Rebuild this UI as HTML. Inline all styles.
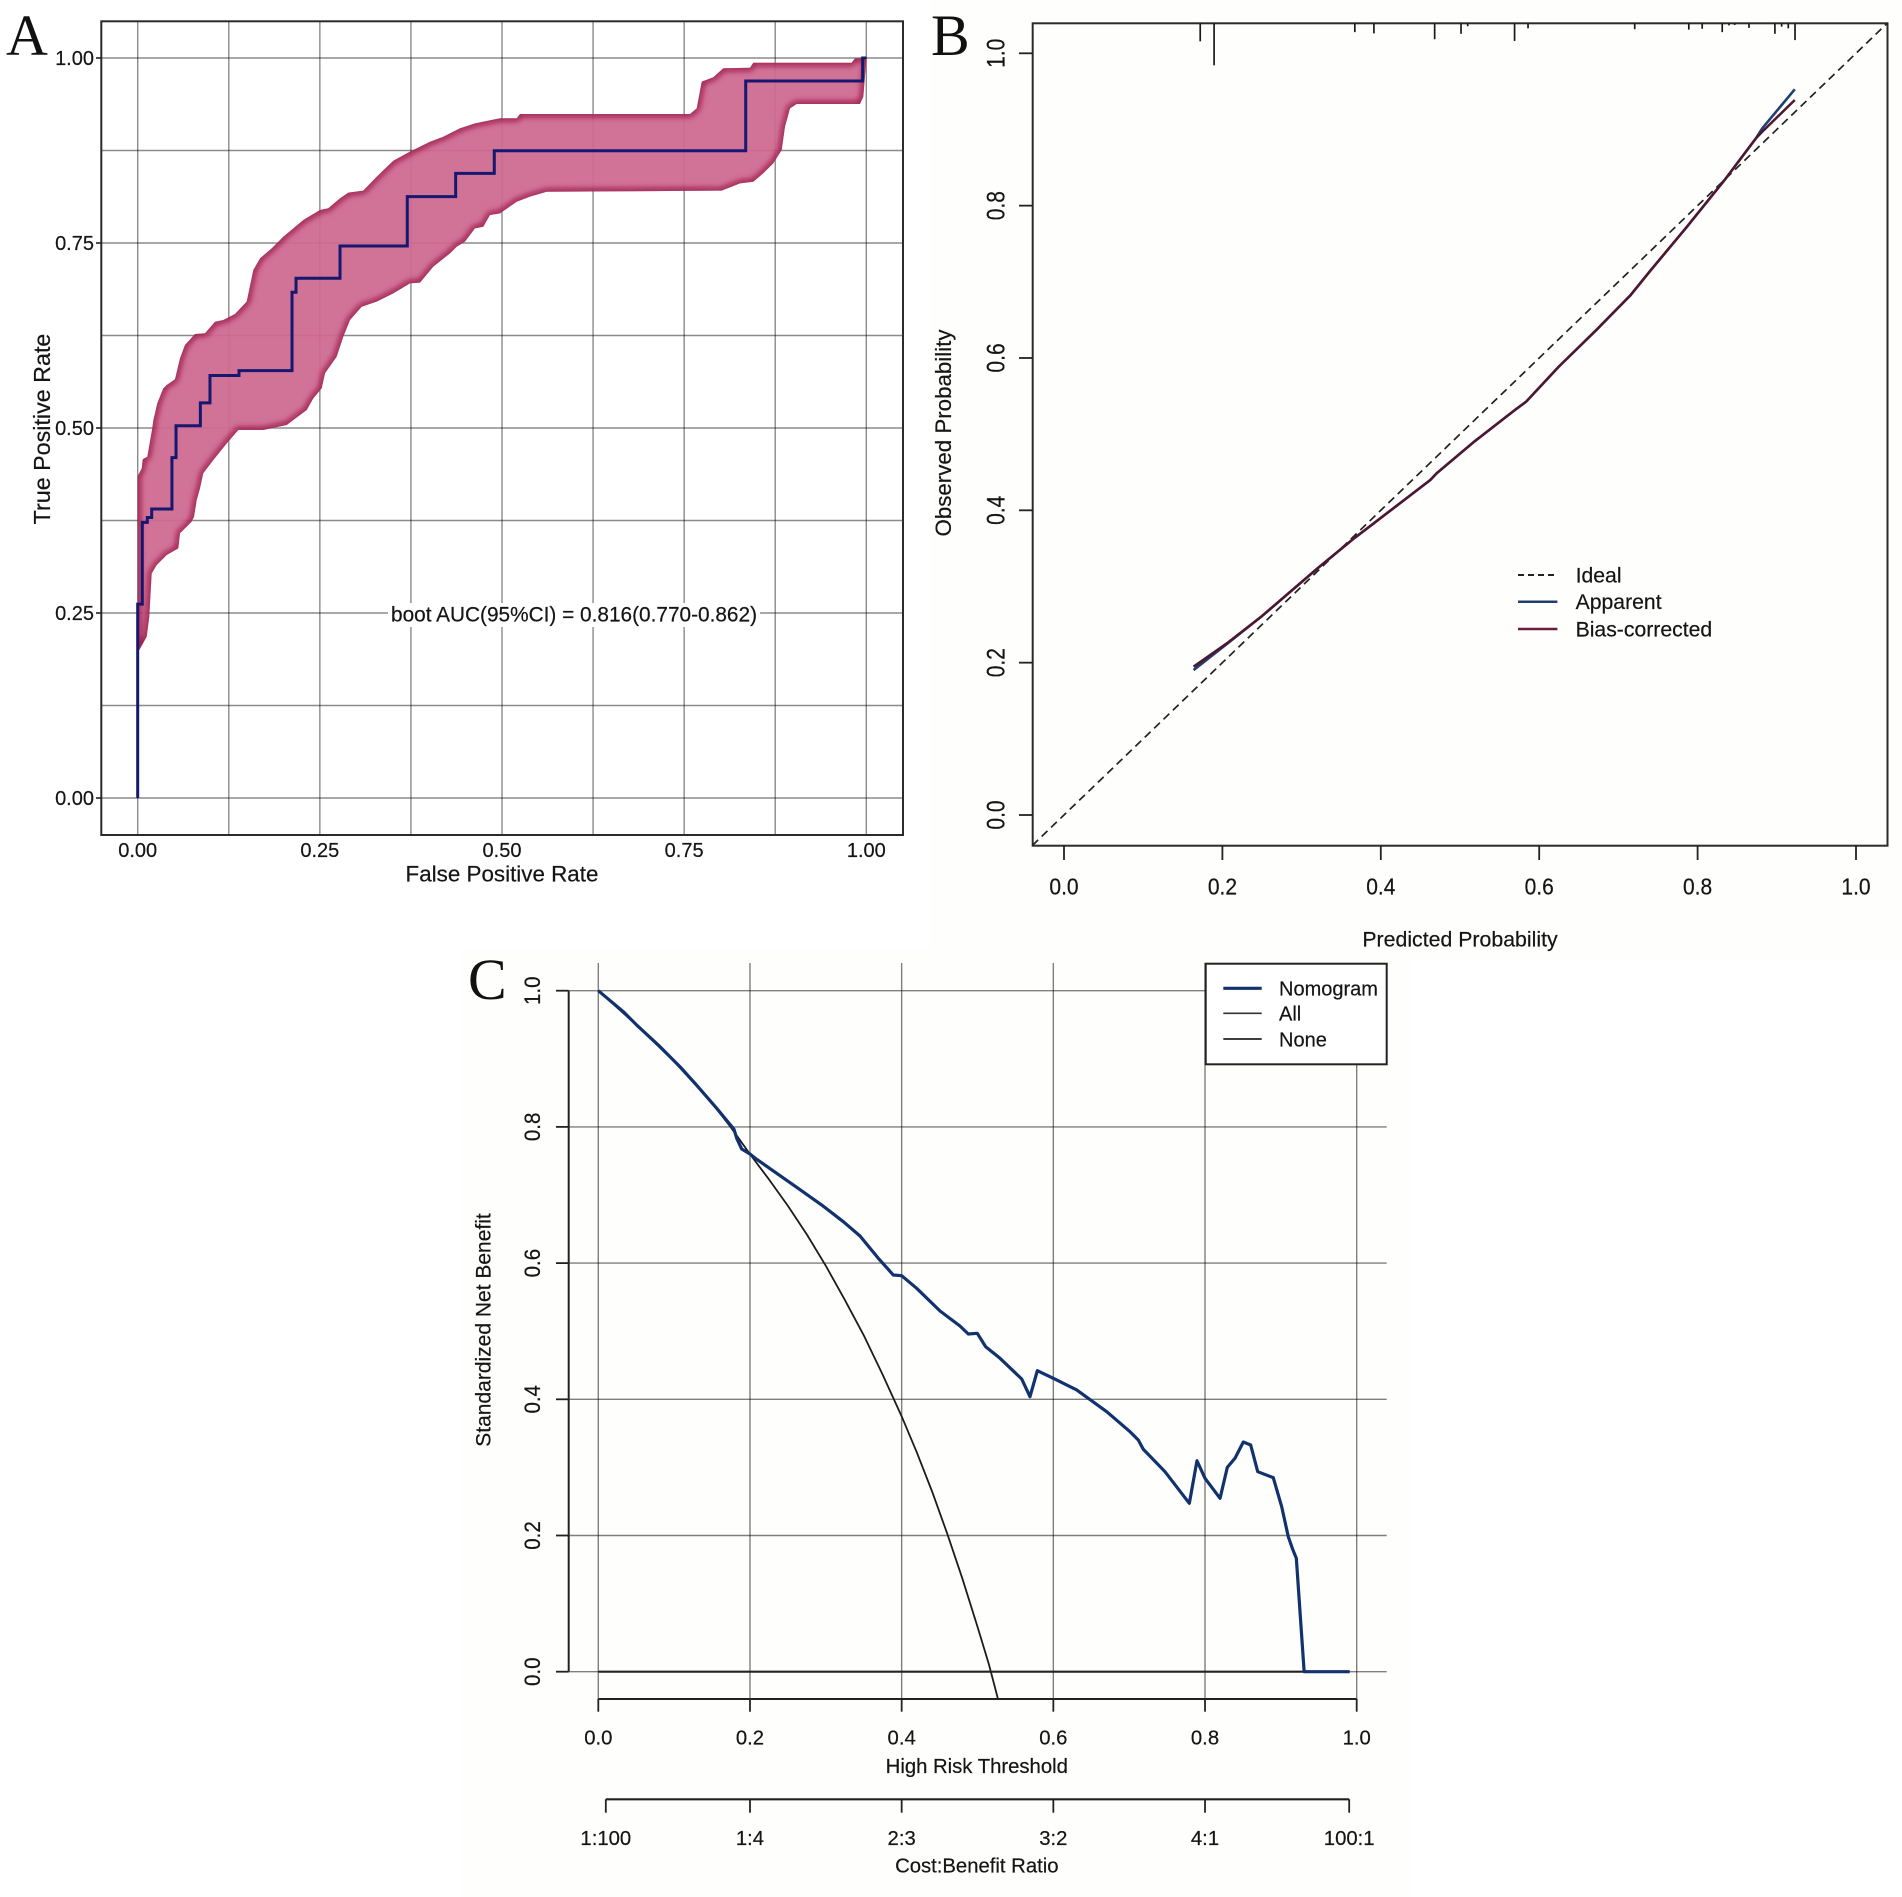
<!DOCTYPE html>
<html lang="en">
<head>
<meta charset="utf-8">
<title>ROC, calibration and decision curves</title>
<style>
html,body{margin:0;padding:0;background:#fff;}
svg{display:block;}
text{font-family:"Liberation Sans",sans-serif;fill:#151515;stroke:#151515;stroke-width:0.2px;}
.letter{font-family:"Liberation Serif",serif;font-size:58px;fill:#111;stroke:none;}
</style>
</head>
<body>
<svg id="figure" xmlns="http://www.w3.org/2000/svg" width="1902" height="1897" viewBox="0 0 1902 1897">
  <defs>
    <filter id="soft" x="-10%" y="-10%" width="120%" height="120%"><feGaussianBlur stdDeviation="3"/></filter>
    <clipPath id="ribbon-clip"></clipPath>
  </defs>
  <rect x="0" y="0" width="1902" height="1897" fill="#ffffff"/>
  <rect x="930" y="0" width="972" height="960" fill="#fefefc"/>
  <rect x="460" y="950" width="950" height="947" fill="#fefefd"/>

  <g id="panel-a">
    <g id="a-grid"></g>
    <g id="a-ribbon" opacity="0.94"></g>
    <g id="a-line"></g>
    <rect x="101.3" y="21.3" width="801.7" height="813.7" fill="none" stroke="#2b2b2b" stroke-width="2"/>
    <g id="a-ticks"></g>
    <rect x="388" y="603" width="372" height="24" fill="#ffffff"/>
    <text x="391" y="621.5" font-size="21" textLength="366" lengthAdjust="spacingAndGlyphs">boot AUC(95%CI) = 0.816(0.770-0.862)</text>
    <text x="502" y="881.5" font-size="22.4" text-anchor="middle">False Positive Rate</text>
    <text transform="translate(50,429) rotate(-90)" font-size="23.3" text-anchor="middle">True Positive Rate</text>
    <text class="letter" x="6" y="55">A</text>
  </g>

  <g id="panel-b">
    <rect x="1032.7" y="23.3" width="854.8" height="822.4" fill="none" stroke="#2b2b2b" stroke-width="2"/>
    <g id="b-rug"></g>
    <g id="b-ticks"></g>
    <g id="b-lines"></g>
    <text x="1460" y="946.5" font-size="21.3" text-anchor="middle">Predicted Probability</text>
    <text transform="translate(951,433) rotate(-90)" font-size="22.3" text-anchor="middle">Observed Probability</text>
    <g>
      <line x1="1518" y1="575" x2="1557.4" y2="575" stroke="#222" stroke-width="2" stroke-dasharray="6 4"/>
      <text x="1575.6" y="582.5" font-size="21.2">Ideal</text>
      <line x1="1518" y1="601.7" x2="1557.4" y2="601.7" stroke="#1f3f6f" stroke-width="2.5"/>
      <text x="1575.6" y="609.2" font-size="21.2">Apparent</text>
      <line x1="1518" y1="629" x2="1557.4" y2="629" stroke="#6b1d3d" stroke-width="2.5"/>
      <text x="1575.6" y="636.5" font-size="21.2">Bias-corrected</text>
    </g>
    <text class="letter" x="931" y="55">B</text>
  </g>

  <g id="panel-c">
    <g id="c-grid"></g>
    <g id="c-lines"></g>
    <g id="c-ticks"></g>
    <text x="976.8" y="1773" font-size="20.3" text-anchor="middle">High Risk Threshold</text>
    <text x="976.8" y="1872.5" font-size="20.3" text-anchor="middle">Cost:Benefit Ratio</text>
    <text transform="translate(490.7,1330) rotate(-90)" font-size="21" text-anchor="middle">Standardized Net Benefit</text>
    <g>
      <rect x="1205.7" y="963.7" width="181" height="100.6" fill="#ffffff" stroke="#222" stroke-width="2"/>
      <line x1="1223.3" y1="988.3" x2="1261.7" y2="988.3" stroke="#12326e" stroke-width="3.2"/>
      <text x="1279" y="995.5" font-size="20">Nomogram</text>
      <line x1="1223.3" y1="1013.3" x2="1261.7" y2="1013.3" stroke="#333" stroke-width="1.6"/>
      <text x="1279" y="1020.5" font-size="20">All</text>
      <line x1="1223.3" y1="1039" x2="1261.7" y2="1039" stroke="#222" stroke-width="1.8"/>
      <text x="1279" y="1046.5" font-size="20">None</text>
    </g>
    <text class="letter" x="468" y="999">C</text>
  </g>
</svg>
<script>
// ---------- Panel A data ----------
const rocGrid = [0, 0.125, 0.25, 0.375, 0.5, 0.625, 0.75, 0.875, 1];
const rocTicks = [0, 0.25, 0.5, 0.75, 1];
const rocTickLabels = ["0.00", "0.25", "0.50", "0.75", "1.00"];
const rocFpr = [0.0063, 0.0132, 0.0192, 0.047, 0.0526, 0.086, 0.0992, 0.139, 0.2118, 0.2173, 0.2777, 0.37, 0.4364, 0.4894, 0.8345, 0.995, 1];
const rocTpr = [0.262, 0.3725, 0.379, 0.3905, 0.46, 0.503, 0.534, 0.571, 0.5775, 0.6834, 0.7023, 0.746, 0.8126, 0.8441, 0.8747, 0.9689, 1];
const upperFpr = [0, 0.0055, 0.0069, 0.0132, 0.02, 0.0214, 0.0269, 0.0351, 0.0398, 0.0512, 0.0581, 0.0649, 0.0786, 0.0924, 0.1061, 0.1175, 0.1335, 0.1496, 0.1587, 0.1679, 0.1839, 0.1998, 0.2136, 0.2273, 0.2502, 0.2616, 0.2777, 0.2891, 0.3096, 0.328, 0.3508, 0.3737, 0.4012, 0.4194, 0.4424, 0.4629, 0.4973, 0.5202, 0.5247, 0.758, 0.7672, 0.7741, 0.79, 0.8037, 0.8404, 0.8449, 0.9799, 0.9845, 0.9959];
const upperTpr = [0.435, 0.4455, 0.4577, 0.4612, 0.4996, 0.5099, 0.5334, 0.5536, 0.5581, 0.5658, 0.5942, 0.6122, 0.627, 0.628, 0.6436, 0.6459, 0.6541, 0.6707, 0.7135, 0.7293, 0.7428, 0.7585, 0.7698, 0.7811, 0.7946, 0.7969, 0.8104, 0.818, 0.8207, 0.8396, 0.8612, 0.8734, 0.8869, 0.8936, 0.905, 0.9117, 0.9185, 0.9185, 0.9243, 0.9243, 0.932, 0.968, 0.9739, 0.9861, 0.9869, 0.9936, 0.9936, 0.9996, 1];
const lowerFpr = [1, 0.9959, 0.9913, 0.9045, 0.8953, 0.8884, 0.8839, 0.8724, 0.8586, 0.8449, 0.8267, 0.8015, 0.5614, 0.5384, 0.5202, 0.4973, 0.4835, 0.4743, 0.4629, 0.4492, 0.4378, 0.4286, 0.4057, 0.3875, 0.3737, 0.3508, 0.328, 0.3074, 0.2914, 0.2822, 0.2731, 0.2571, 0.2525, 0.241, 0.232, 0.2045, 0.1724, 0.1381, 0.1222, 0.1038, 0.09, 0.0855, 0.081, 0.0773, 0.0741, 0.0626, 0.0581, 0.0557, 0.0398, 0.0261, 0.0192, 0.0159, 0.0124, 0.0022, 0];
const lowerTpr = [0.997, 0.9477, 0.9378, 0.9378, 0.932, 0.9072, 0.8757, 0.8577, 0.8442, 0.8328, 0.8306, 0.8207, 0.8193, 0.8126, 0.8058, 0.7901, 0.7878, 0.772, 0.7698, 0.7518, 0.745, 0.736, 0.718, 0.6964, 0.6955, 0.682, 0.6707, 0.6639, 0.6459, 0.6234, 0.5964, 0.5739, 0.5536, 0.5401, 0.5243, 0.5041, 0.4973, 0.4973, 0.4793, 0.4568, 0.4388, 0.4185, 0.4027, 0.3801, 0.3734, 0.3622, 0.3577, 0.3374, 0.3284, 0.3149, 0.3036, 0.245, 0.218, 0.2, 0.2];

// ---------- Panel B data ----------
const calTicks = [0, 0.2, 0.4, 0.6, 0.8, 1];
const calTickLabels = ["0.0", "0.2", "0.4", "0.6", "0.8", "1.0"];
const idealRange = [-0.04, 1.04];
const rugProb = [0.172, 0.1895, 0.3672, 0.3913, 0.468, 0.5013, 0.5097, 0.5689, 0.5859, 0.7206, 0.7889, 0.8058, 0.8311, 0.8396, 0.8468, 0.8649, 0.8976, 0.9061, 0.9145, 0.923];
const rugFreq = [0.43, 1, 0.21, 0.24, 0.38, 0.25, 0.07, 0.42, 0.12, 0.14, 0.15, 0.13, 0.21, 0.05, 0.04, 0.11, 0.25, 0.08, 0.12, 0.4];
const calProb = [0.1636, 0.2056, 0.2491, 0.3202, 0.3636, 0.4625, 0.4705, 0.5179, 0.5693, 0.5835, 0.6246, 0.6721, 0.7155, 0.7393, 0.7866, 0.8341, 0.8737, 0.8816, 0.9227];
const apparentObs = [0.1903, 0.2245, 0.2604, 0.3239, 0.361, 0.4398, 0.4486, 0.4901, 0.5317, 0.5426, 0.5885, 0.6367, 0.6827, 0.7133, 0.7724, 0.8337, 0.8884, 0.9015, 0.9527];
const biasObs = [0.1947, 0.2254, 0.2604, 0.3239, 0.361, 0.4398, 0.4486, 0.4901, 0.5317, 0.5426, 0.5885, 0.6367, 0.6827, 0.7133, 0.7724, 0.8337, 0.8884, 0.897, 0.9387];

// ---------- Panel C data ----------
const dcaTicks = [0, 0.2, 0.4, 0.6, 0.8, 1];
const dcaTickLabels = ["0.0", "0.2", "0.4", "0.6", "0.8", "1.0"];
const costTicks = [0.0099, 0.2, 0.4, 0.6, 0.8, 0.9901];
const costTickLabels = ["1:100", "1:4", "2:3", "3:2", "4:1", "100:1"];
const nomogramThr = [0, 0.033, 0.0506, 0.0791, 0.1077, 0.1275, 0.1561, 0.1789, 0.1825, 0.1891, 0.2, 0.2089, 0.2352, 0.2616, 0.2946, 0.3231, 0.3451, 0.3692, 0.389, 0.4, 0.4198, 0.4506, 0.4769, 0.4879, 0.4997, 0.5108, 0.5297, 0.5583, 0.5692, 0.5789, 0.6, 0.6308, 0.6704, 0.7011, 0.712, 0.7186, 0.7472, 0.7793, 0.7894, 0.8, 0.8198, 0.8294, 0.8395, 0.8505, 0.8602, 0.8695, 0.89, 0.9011, 0.9098, 0.9156, 0.9204, 0.9307, 0.9908];
const nomogramNb = [1, 0.9692, 0.9496, 0.9202, 0.8884, 0.864, 0.8273, 0.7965, 0.7832, 0.7675, 0.7602, 0.7524, 0.7319, 0.7113, 0.6853, 0.6608, 0.6398, 0.6071, 0.5825, 0.5815, 0.563, 0.5297, 0.5076, 0.4959, 0.4969, 0.4772, 0.4602, 0.4298, 0.4038, 0.442, 0.4308, 0.4137, 0.3818, 0.3524, 0.3402, 0.3266, 0.2937, 0.2473, 0.3098, 0.284, 0.2546, 0.3001, 0.3134, 0.3373, 0.3329, 0.2937, 0.2849, 0.2423, 0.1982, 0.1797, 0.1665, 0, 0];
const allThr = [0, 0.05, 0.1, 0.15, 0.175, 0.2, 0.225, 0.25, 0.275, 0.3, 0.325, 0.35, 0.375, 0.4, 0.42, 0.44, 0.46, 0.48, 0.5, 0.515, 0.527];
const allNb = [1, 0.95, 0.896, 0.835, 0.799, 0.76, 0.723, 0.684, 0.642, 0.596, 0.546, 0.494, 0.436, 0.375, 0.322, 0.265, 0.203, 0.137, 0.066, 0.011, -0.04];
const noneThr = [0, 0.99];
const noneNb = [0, 0];

// ---------- Axis functions ----------
const xA = v => 137.7 + 728.6 * v;
const yA = v => 798 - 740 * v;
const xB = v => 1064 + 792 * v;
const yB = v => 815 - 761.7 * v;
const rugLen = f => 42 * f;
const xC = v => 598.3 + 758.4 * v;
const yC = v => 1671.7 - 681 * v;

const NS = "http://www.w3.org/2000/svg";
function mk(parent, tag, attrs, text) {
  const el = document.createElementNS(NS, tag);
  for (const k in attrs) el.setAttribute(k, attrs[k]);
  if (text !== undefined) el.textContent = text;
  parent.appendChild(el);
  return el;
}
function pts(xs, ys, fx, fy) {
  return xs.map((x, i) => fx(x).toFixed(2) + "," + fy(ys[i]).toFixed(2)).join(" ");
}
const gridStyleA = { stroke: "#000", "stroke-opacity": 0.46, "stroke-width": 1.4 };
const gridStyleC = { stroke: "#000", "stroke-opacity": 0.5, "stroke-width": 1.4 };

// ---------- Panel A ----------
const aGrid = document.getElementById("a-grid");
rocGrid.forEach(v => {
  const vl = mk(aGrid, "line", Object.assign({ x1: xA(v), x2: xA(v), y1: 21.3, y2: 835 }, gridStyleA));
  
  
  const hl = mk(aGrid, "line", Object.assign({ x1: 101.3, x2: 903, y1: yA(v), y2: yA(v) }, gridStyleA));
  
  
});

const ribbonPoints = pts(upperFpr, upperTpr, xA, yA) + " " + pts(lowerFpr, lowerTpr, xA, yA);
const clipPoly = mk(document.getElementById("ribbon-clip"), "polygon", { points: ribbonPoints });


const aRibbon = document.getElementById("a-ribbon");
const ribbonFill = mk(aRibbon, "polygon", { points: ribbonPoints, fill: "#cf6a91" });


const ribbonClipGroup = mk(aRibbon, "g", { "clip-path": "url(#ribbon-clip)" });


const ribbonEdge = mk(ribbonClipGroup, "polygon", { points: ribbonPoints, fill: "none", stroke: "#96103f", "stroke-width": 6, filter: "url(#soft)" });



let rocPath = "M" + xA(0).toFixed(2) + " " + yA(0).toFixed(2);
rocFpr.forEach((f, i) => {
  const prevX = i === 0 ? 0 : rocFpr[i - 1];
  rocPath += " L" + xA(prevX).toFixed(2) + " " + yA(rocTpr[i]).toFixed(2);
  rocPath += " L" + xA(f).toFixed(2) + " " + yA(rocTpr[i]).toFixed(2);
});
const rocLine = mk(document.getElementById("a-line"), "path", { d: rocPath, fill: "none", stroke: "#16176e", "stroke-width": 3, "stroke-linejoin": "miter" });



const aTicks = document.getElementById("a-ticks");
rocTicks.forEach((v, i) => {
  const tk = mk(aTicks, "line", { x1: 96, x2: 101.3, y1: yA(v), y2: yA(v), stroke: "#222", "stroke-width": 1.6 });
  
  
  const yl = mk(aTicks, "text", { x: 94, y: yA(v) + 7, "font-size": 20, "text-anchor": "end" }, rocTickLabels[i]);
  
  
  const xl = mk(aTicks, "text", { x: xA(v), y: 857, "font-size": 20, "text-anchor": "middle" }, rocTickLabels[i]);
  
  
});

// ---------- Panel B ----------
const bRug = document.getElementById("b-rug");
rugProb.forEach((p, i) => {
  const r = mk(bRug, "line", { x1: xB(p), x2: xB(p), y1: 23.3, y2: 23.3 + rugLen(rugFreq[i]), stroke: "#1a1a1a", "stroke-width": 1.7 });
  
  
});
const bTicks = document.getElementById("b-ticks");
calTicks.forEach((v, i) => {
  const xt = mk(bTicks, "line", { x1: xB(v), x2: xB(v), y1: 845.7, y2: 860, stroke: "#222", "stroke-width": 1.8 });
  
  
  const yt = mk(bTicks, "line", { x1: 1019, x2: 1032.7, y1: yB(v), y2: yB(v), stroke: "#222", "stroke-width": 1.8 });
  
  
  const xl = mk(bTicks, "text", { transform: "translate(" + xB(v) + ",894.3) scale(1,1.12)", "font-size": 21, "text-anchor": "middle" }, calTickLabels[i]);
  
  
  const yl = mk(bTicks, "text", { transform: "translate(1004.5," + yB(v) + ") rotate(-90) scale(1,1.2)", "font-size": 21, "text-anchor": "middle" }, calTickLabels[i]);
  
  
});
const bLines = document.getElementById("b-lines");
const ideal = mk(bLines, "line", { x1: xB(idealRange[0]), y1: yB(idealRange[0]), x2: xB(idealRange[1]), y2: yB(idealRange[1]), stroke: "#222", "stroke-width": 1.7, "stroke-dasharray": "8 5" });


const apparent = mk(bLines, "polyline", { points: pts(calProb, apparentObs, xB, yB), fill: "none", stroke: "#1f3f6f", "stroke-width": 2.6 });


const biasLine = mk(bLines, "polyline", { points: pts(calProb, biasObs, xB, yB), fill: "none", stroke: "#4f1630", "stroke-width": 2.5 });



// ---------- Panel C ----------
const cGrid = document.getElementById("c-grid");
dcaTicks.forEach(v => {
  const vl = mk(cGrid, "line", Object.assign({ x1: xC(v), x2: xC(v), y1: 963, y2: 1699 }, gridStyleC));
  
  
  const hl = mk(cGrid, "line", Object.assign({ x1: 568.7, x2: 1386.7, y1: yC(v), y2: yC(v) }, gridStyleC));
  
  
});
const cLines = document.getElementById("c-lines");
const allLine = mk(cLines, "polyline", { points: pts(allThr, allNb, xC, yC), fill: "none", stroke: "#1c1c1c", "stroke-width": 1.8, "stroke-linejoin": "round" });


const noneLine = mk(cLines, "polyline", { points: pts(noneThr, noneNb, xC, yC), fill: "none", stroke: "#222", "stroke-width": 2.2 });


const nomoLine = mk(cLines, "polyline", { points: pts(nomogramThr, nomogramNb, xC, yC), fill: "none", stroke: "#12326e", "stroke-width": 3.2, "stroke-linejoin": "round" });



const cTicks = document.getElementById("c-ticks");
const yAxisC = mk(cTicks, "line", { x1: 568.7, x2: 568.7, y1: yC(1), y2: yC(0), stroke: "#222", "stroke-width": 2 });


const xAxisC = mk(cTicks, "line", { x1: xC(0), x2: xC(1), y1: 1699, y2: 1699, stroke: "#222", "stroke-width": 2 });


const costAxis = mk(cTicks, "line", { x1: xC(costTicks[0]), x2: xC(costTicks[costTicks.length - 1]), y1: 1799.3, y2: 1799.3, stroke: "#222", "stroke-width": 2.2 });


dcaTicks.forEach((v, i) => {
  const yt = mk(cTicks, "line", { x1: 556, x2: 568.7, y1: yC(v), y2: yC(v), stroke: "#222", "stroke-width": 1.8 });
  
  
  const xt = mk(cTicks, "line", { x1: xC(v), x2: xC(v), y1: 1699, y2: 1711.7, stroke: "#222", "stroke-width": 1.8 });
  
  
  const xl = mk(cTicks, "text", { x: xC(v), y: 1744.3, "font-size": 20.3, "text-anchor": "middle" }, dcaTickLabels[i]);
  
  
  const yl = mk(cTicks, "text", { transform: "translate(540," + yC(v) + ") rotate(-90) scale(1,1.1)", "font-size": 20.5, "text-anchor": "middle" }, dcaTickLabels[i]);
  
  
});
costTicks.forEach((v, i) => {
  const t = mk(cTicks, "line", { x1: xC(v), x2: xC(v), y1: 1799.3, y2: 1812.7, stroke: "#222", "stroke-width": 1.8 });
  
  
  const l = mk(cTicks, "text", { x: xC(v), y: 1845, "font-size": 20.3, "text-anchor": "middle" }, costTickLabels[i]);
  
  
});
</script>
</body>
</html>
